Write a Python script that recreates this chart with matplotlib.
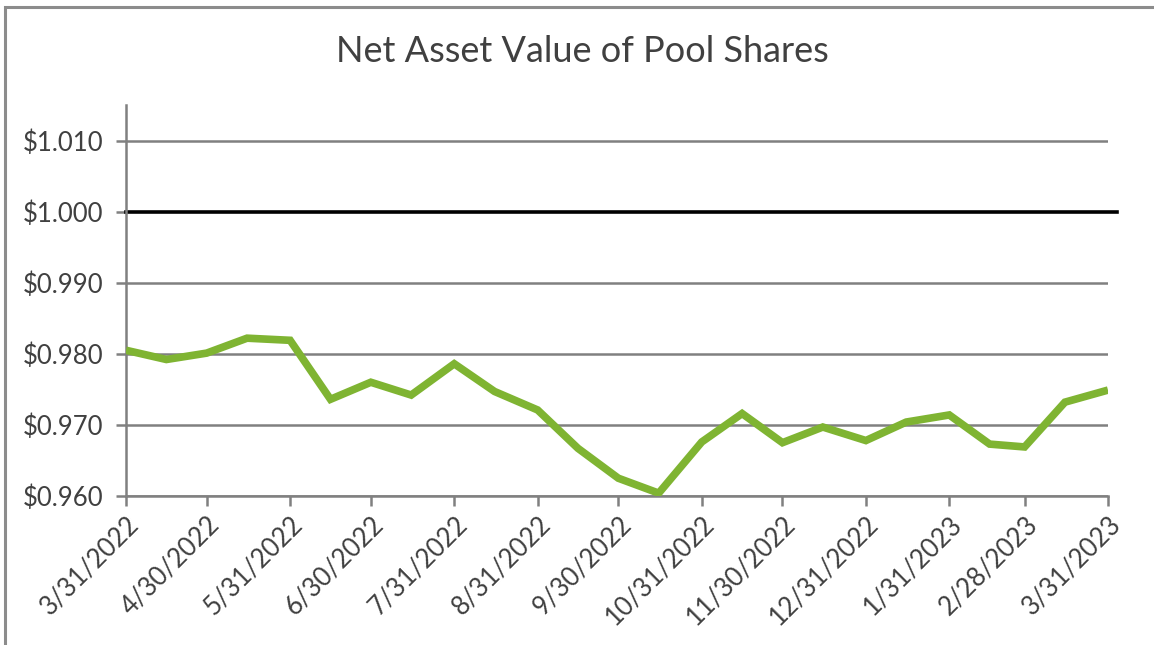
import numpy as np
import pandas as pd
import matplotlib
matplotlib.use("Agg")
import matplotlib.pyplot as plt
import matplotlib.dates as mdates
from matplotlib.patches import Rectangle

# semi-monthly NAV readings
dates = pd.to_datetime([
    "2022-03-31", "2022-04-15", "2022-04-30", "2022-05-15", "2022-05-31",
    "2022-06-15", "2022-06-30", "2022-07-15", "2022-07-31", "2022-08-15",
    "2022-08-31", "2022-09-15", "2022-09-30", "2022-10-15", "2022-10-31",
    "2022-11-15", "2022-11-30", "2022-12-15", "2022-12-31", "2023-01-15",
    "2023-01-31", "2023-02-15", "2023-02-28", "2023-03-15", "2023-03-31",
])
nav = [
    0.9805, 0.9792, 0.9801, 0.9822, 0.9819,
    0.9736, 0.9760, 0.9742, 0.9786, 0.9747,
    0.9721, 0.9667, 0.9625, 0.9604, 0.9676,
    0.9716, 0.9675, 0.9697, 0.9678, 0.9704,
    0.9714, 0.9673, 0.9669, 0.9732, 0.9749,
]
tick_dates = pd.to_datetime([
    "2022-03-31", "2022-04-30", "2022-05-31", "2022-06-30", "2022-07-31",
    "2022-08-31", "2022-09-30", "2022-10-31", "2022-11-30", "2022-12-31",
    "2023-01-31", "2023-02-28", "2023-03-31",
])
tick_labels = ["3/31/2022", "4/30/2022", "5/31/2022", "6/30/2022", "7/31/2022",
               "8/31/2022", "9/30/2022", "10/31/2022", "11/30/2022", "12/31/2022",
               "1/31/2023", "2/28/2023", "3/31/2023"]
y_ticks = [0.960, 0.970, 0.980, 0.990, 1.000, 1.010]
par_value = 1.000

plt.rcParams['font.family'] = ['Lato', 'DejaVu Sans']
grey = '#808080'
txt = '#404040'

W, H = 1154, 645
fig = plt.figure(figsize=(W / 100, H / 100), dpi=100)
ax = fig.add_axes([126 / W, 1 - 496 / H, (1108 - 126) / W, (496 - 105) / H])

# outer chart border
fig.patches.append(Rectangle((5 / W, -0.05), 1.2, 1 - 7 / H + 0.05,
                             transform=fig.transFigure, fill=False,
                             edgecolor='#8c8c8c', linewidth=2.2))

for yv in y_ticks:
    if yv != par_value:
        ax.axhline(yv, color=grey, linewidth=1.8, zorder=1)

ax.axhline(par_value, xmin=0, xmax=(1117 - 126) / (1108 - 126), color='black',
           linewidth=2.6, zorder=2, clip_on=False)
ax.plot(dates, nav, color='#7fb432', linewidth=5.5, solid_joinstyle='miter',
        solid_capstyle='butt', zorder=3)

ax.set_xlim(tick_dates[0], tick_dates[-1])
ax.set_ylim(0.960, 1.015)
ax.set_yticks(y_ticks)
ax.set_yticklabels([f"${v:.3f}" for v in y_ticks])
ax.set_xticks(tick_dates)
ax.set_xticklabels(tick_labels, rotation=45, ha='right', rotation_mode='anchor')

for s in ['top', 'right']:
    ax.spines[s].set_visible(False)
for s in ['left', 'bottom']:
    ax.spines[s].set_color(grey)
    ax.spines[s].set_linewidth(1.8)
ax.tick_params(axis='both', colors=grey, width=1.8, length=7, labelcolor=txt,
               labelsize=18.5)
ax.tick_params(axis='x', pad=4)
ax.tick_params(axis='y', pad=9)

fig.text(582 / W, 1 - 51 / H, "Net Asset Value of Pool Shares", ha='center',
         va='center', fontsize=26, color=txt)

fig.savefig("out.png", dpi=100)
